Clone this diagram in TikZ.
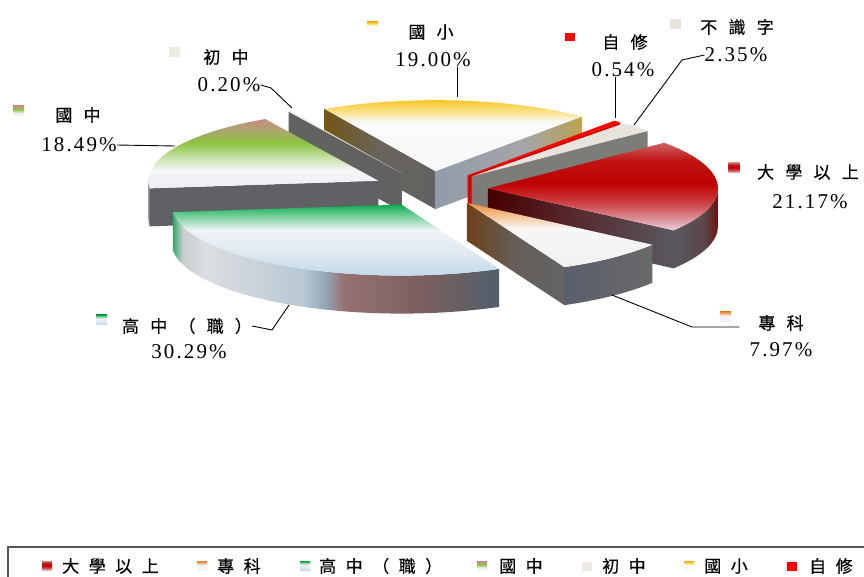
\documentclass[tikz,border=0pt]{standalone}
\usepackage{fontspec}
\newfontfamily\cjkfont[LetterSpace=66,FakeBold=0.4]{Noto Sans CJK TC}
\newfontfamily\keyfont[LetterSpace=56,FakeBold=0.4]{Noto Sans CJK TC}
\newfontfamily\numfont[LetterSpace=10]{Liberation Serif}

% slice colours
\definecolor{gxyel}{RGB}{245,185,0}
\definecolor{gxlight}{RGB}{250,215,95}
\definecolor{czbeige}{RGB}{236,234,226}
\definecolor{czgray}{RGB}{98,98,96}
\definecolor{zxred}{RGB}{255,0,0}
\definecolor{zxside}{RGB}{215,0,0}
\definecolor{bszbeige}{RGB}{230,228,220}
\definecolor{bszgray}{RGB}{124,124,120}
\definecolor{gzgray}{RGB}{95,97,101}
\definecolor{framegray}{RGB}{85,85,85}

% top faces (vertical, bottom -> top)
\pgfdeclareverticalshading{gxtop}{100bp}{color(0bp)=(white!95!gray); color(25bp)=(white!95!gray);
  color(57bp)=(white!97!gray); color(67bp)=(gxlight); color(75bp)=(gxyel); color(100bp)=(gxyel)}
\pgfdeclareverticalshading{gztop}{100bp}{color(0bp)=(rgb,255:red,235;green,238;blue,245);
  color(25bp)=(rgb,255:red,235;green,238;blue,245); color(38bp)=(rgb,255:red,245;green,246;blue,248);
  color(46bp)=(rgb,255:red,205;green,228;blue,180); color(58bp)=(rgb,255:red,140;green,195;blue,65);
  color(67bp)=(rgb,255:red,172;green,165;blue,110); color(75bp)=(rgb,255:red,200;green,140;blue,130);
  color(100bp)=(rgb,255:red,200;green,140;blue,130)}
\pgfdeclareverticalshading{dxtop}{100bp}{color(0bp)=(rgb,255:red,235;green,205;blue,215);
  color(25bp)=(rgb,255:red,235;green,205;blue,215); color(40bp)=(rgb,255:red,205;green,70;blue,75);
  color(52bp)=(rgb,255:red,190;green,0;blue,0); color(65bp)=(rgb,255:red,192;green,20;blue,20);
  color(75bp)=(rgb,255:red,205;green,100;blue,100); color(100bp)=(rgb,255:red,205;green,100;blue,100)}
\pgfdeclareverticalshading{zktop}{100bp}{color(0bp)=(rgb,255:red,240;green,240;blue,240);
  color(25bp)=(rgb,255:red,240;green,240;blue,240); color(55bp)=(rgb,255:red,247;green,247;blue,247);
  color(65bp)=(rgb,255:red,245;green,195;blue,150); color(75bp)=(rgb,255:red,235;green,140;blue,60);
  color(100bp)=(rgb,255:red,235;green,140;blue,60)}
\pgfdeclareverticalshading{gzhtop}{100bp}{color(0bp)=(rgb,255:red,190;green,215;blue,235);
  color(25bp)=(rgb,255:red,190;green,215;blue,235); color(45bp)=(rgb,255:red,225;green,235;blue,242);
  color(58bp)=(rgb,255:red,240;green,243;blue,245); color(68bp)=(rgb,255:red,110;green,205;blue,150);
  color(75bp)=(rgb,255:red,15;green,170;blue,80); color(100bp)=(rgb,255:red,15;green,170;blue,80)}

% side faces (horizontal, left -> right)
\pgfdeclarehorizontalshading{gxleft}{100bp}{color(0bp)=(rgb,255:red,115;green,85;blue,20);
  color(25bp)=(rgb,255:red,115;green,85;blue,20); color(50bp)=(rgb,255:red,105;green,100;blue,92);
  color(75bp)=(rgb,255:red,98;green,98;blue,98); color(100bp)=(rgb,255:red,98;green,98;blue,98)}
\pgfdeclarehorizontalshading{gxright}{100bp}{color(0bp)=(rgb,255:red,145;green,155;blue,170);
  color(25bp)=(rgb,255:red,145;green,155;blue,170); color(55bp)=(rgb,255:red,165;green,166;blue,168);
  color(70bp)=(rgb,255:red,180;green,162;blue,105); color(75bp)=(rgb,255:red,192;green,165;blue,75);
  color(100bp)=(rgb,255:red,192;green,165;blue,75)}
\pgfdeclarehorizontalshading{dxside}{100bp}{color(0bp)=(rgb,255:red,70;green,0;blue,0);
  color(25bp)=(rgb,255:red,70;green,0;blue,0); color(45bp)=(rgb,255:red,85;green,35;blue,40);
  color(75bp)=(rgb,255:red,88;green,88;blue,95); color(100bp)=(rgb,255:red,88;green,88;blue,95)}
\pgfdeclarehorizontalshading{dxband}{100bp}{color(0bp)=(rgb,255:red,88;green,88;blue,95);
  color(25bp)=(rgb,255:red,88;green,88;blue,95); color(60bp)=(rgb,255:red,90;green,70;blue,75);
  color(75bp)=(rgb,255:red,110;green,15;blue,15); color(100bp)=(rgb,255:red,110;green,15;blue,15)}
\pgfdeclarehorizontalshading{zkside}{100bp}{color(0bp)=(rgb,255:red,110;green,65;blue,25);
  color(25bp)=(rgb,255:red,110;green,65;blue,25); color(50bp)=(rgb,255:red,100;green,95;blue,90);
  color(75bp)=(rgb,255:red,100;green,100;blue,100); color(100bp)=(rgb,255:red,100;green,100;blue,100)}
\pgfdeclarehorizontalshading{zkband}{100bp}{color(0bp)=(rgb,255:red,90;green,95;blue,108);
  color(25bp)=(rgb,255:red,90;green,95;blue,108); color(75bp)=(rgb,255:red,105;green,105;blue,105);
  color(100bp)=(rgb,255:red,105;green,105;blue,105)}
\pgfdeclarehorizontalshading{gzhband}{100bp}{color(0bp)=(rgb,255:red,50;green,170;blue,100);
  color(25bp)=(rgb,255:red,50;green,170;blue,100); color(26.5bp)=(rgb,255:red,200;green,205;blue,205);
  color(30bp)=(rgb,255:red,220;green,222;blue,225); color(45bp)=(rgb,255:red,185;green,200;blue,212);
  color(48.5bp)=(rgb,255:red,145;green,165;blue,180); color(51bp)=(rgb,255:red,150;green,115;blue,115);
  color(62.5bp)=(rgb,255:red,125;green,95;blue,95); color(70bp)=(rgb,255:red,100;green,95;blue,100);
  color(75bp)=(rgb,255:red,80;green,95;blue,110); color(100bp)=(rgb,255:red,80;green,95;blue,110)}

% pieces of one slice, drawn from its apex (0,0)
\newcommand\rimface[2]{%
  \path[#2] (0,0) -- (#1:230 and 71) -- ++(0,-38) -- (0,-38) -- cycle;}
\newcommand\bandface[3]{%
  \path[#3] (#1:230 and 71) arc[start angle=#1,end angle=#2,x radius=230,y radius=71]
    -- ++(0,-38) arc[start angle=#2,end angle=#1,x radius=230,y radius=71] -- cycle;}
\newcommand\lidface[3]{%
  \path[#3] (0,0) -- (#2:230 and 71) arc[start angle=#2,end angle=#1,x radius=230,y radius=71] -- cycle;}

\begin{document}
\begin{tikzpicture}[x=1pt,y=1pt,
  lbl/.style={font=\cjkfont\fontsize{17}{19}\selectfont,inner sep=0pt},
  num/.style={font=\numfont\fontsize{21}{23}\selectfont,inner sep=0pt},
  keytxt/.style={font=\keyfont\fontsize{17}{19}\selectfont,inner sep=0pt,anchor=west},
  key/.style={inner sep=0pt,minimum width=11pt,minimum height=10pt},
  leader/.style={draw=black,line width=0.9pt}]
\useasboundingbox[fill=white] (0,0) rectangle (864,576);

\begin{scope}[shift={(430,387)}]
% 國小
\begin{scope}[shift={(84.6:58 and 17.9)}]
  \rimface{118.8}{shade,shading=gxleft}
  \rimface{50.4}{shade,shading=gxright}
  \lidface{50.4}{118.8}{shade,shading=gxtop}
\end{scope}
% 初中
\begin{scope}[shift={(119.15:58 and 17.9)}]
  \rimface{119.5}{fill=czgray}
  \lidface{118.8}{119.5}{fill=czbeige}
\end{scope}
% 自修
\begin{scope}[shift={(49.45:58 and 17.9)}]
  \rimface{48.5}{fill=zxside}
  \lidface{48.5}{50.4}{fill=zxred}
\end{scope}
% 不識字
\begin{scope}[shift={(44.25:58 and 17.9)}]
  \rimface{40}{fill=bszgray}
  \lidface{40}{48.5}{fill=bszbeige}
\end{scope}
% 國中
\begin{scope}[shift={(152.8:58 and 17.9)}]
  \rimface{186.1}{fill=gzgray}
  \bandface{180}{186.1}{fill=gzgray}
  \lidface{119.5}{186.1}{shade,shading=gztop}
\end{scope}
% 大學以上
\begin{scope}[shift={(1.9:58 and 17.9)}]
  \rimface{-36.2}{shade,shading=dxside}
  \bandface{-36.2}{0}{shade,shading=dxband}
  \lidface{-36.2}{40}{shade,shading=dxtop}
\end{scope}
% 專科
\begin{scope}[shift={(-50.55:58 and 17.9)}]
  \rimface{-64.9}{shade,shading=zkside}
  \bandface{-64.9}{-36.2}{shade,shading=zkband}
  \lidface{-64.9}{-36.2}{shade,shading=zktop}
\end{scope}
% 高中（職）
\begin{scope}[shift={(-119.4:58 and 17.9)}]
  \bandface{-173.9}{-64.9}{shade,shading=gzhband}
  \lidface{-173.9}{-64.9}{shade,shading=gzhtop}
\end{scope}
\end{scope}

% data labels
\node[key,shade,shading=gxtop] (kgx) at (372.5,549) {};
\node[lbl] (tgx) at (431,544) {國小};
\node[num] (pgx) at (433,516) {19.00\%};
\coordinate (egx) at (457,479);
\draw[leader] (pgx.south -| egx) -- (egx);

\node[key,fill=czbeige] (kcz) at (174,523.5) {};
\node[lbl] (tcz) at (226,519) {初中};
\node[num] (pcz) at (229,491) {0.20\%};
\coordinate (bcz) at (271,488);
\coordinate (ecz) at (292,468);
\draw[leader] (pcz.east) -- (bcz) -- (ecz);

\node[key,shade,shading=gztop] (kgz) at (18.5,465) {};
\node[lbl] (tgz) at (78,461) {國中};
\node[num] (pgz) at (79,431) {18.49\%};
\coordinate (egz) at (175,430);
\draw[leader] (pgz.east) -- (egz);

\node[key,fill=zxred,minimum width=10pt,minimum height=8pt] (kzx) at (570,539) {};
\node[lbl] (tzx) at (625,534) {自修};
\node[num] (pzx) at (623,506) {0.54\%};
\coordinate (ezx) at (615,458);
\draw[leader] (pzx.south -| ezx) -- (ezx);

\node[key,fill=bszbeige] (kbs) at (675.5,552) {};
\node[lbl] (tbs) at (737,549) {不識字};
\node[num] (pbs) at (736,521) {2.35\%};
\coordinate (bbs) at (682,516);
\coordinate (ebs) at (634,451);
\draw[leader] (pbs.west) -- (bbs) -- (ebs);

\node[key,shade,shading=dxtop] (kdx) at (734,408) {};
\node[lbl] (tdx) at (808,404) {大學以上};
\node[num] (pdx) at (810,374) {21.17\%};

\node[key,shade,shading=zktop] (kzk) at (725.5,259) {};
\node[lbl] (tzk) at (781,253) {專科};
\node[num] (pzk) at (781,226) {7.97\%};
\coordinate (bzk) at (692,249);
\coordinate (ezk) at (612,281);
\draw[leader] (pzk.north west |- bzk) ++(-10,0) -- (bzk) -- (ezk);

\node[key,shade,shading=gzhtop] (kgzh) at (101.5,256) {};
\node[lbl] (tgzh) at (187,250) {高中（職）};
\node[num] (pgzh) at (189,224) {30.29\%};
\coordinate (bgzh) at (272,246);
\coordinate (egzh) at (289,271);
\draw[leader] (tgzh.east) -- (bgzh) -- (egzh);

% legend
\draw[framegray,line width=1.3pt] (880,29) -- (8,29) -- (8,-10);
\node[key,minimum width=10pt,minimum height=9pt,shade,shading=dxtop] (ldx) at (47,10) {};
\node[keytxt] (mdx) at (62,10) {大學以上};
\node[key,minimum width=10pt,minimum height=9pt,shade,shading=zktop] (lzk) at (202,10) {};
\node[keytxt] (mzk) at (217,10) {專科};
\node[key,minimum width=10pt,minimum height=9pt,shade,shading=gzhtop] (lgzh) at (305,10) {};
\node[keytxt] (mgzh) at (319,10) {高中（職）};
\node[key,minimum width=10pt,minimum height=9pt,shade,shading=gztop] (lgz) at (482,10) {};
\node[keytxt] (mgz) at (499,10) {國中};
\node[key,minimum width=10pt,minimum height=9pt,fill=czbeige] (lcz) at (587,10) {};
\node[keytxt] (mcz) at (602,10) {初中};
\node[key,minimum width=10pt,minimum height=9pt,shade,shading=gxtop] (lgx) at (689,10) {};
\node[keytxt] (mgx) at (704,10) {國小};
\node[key,minimum width=10pt,minimum height=9pt,fill=zxred] (lzx) at (792,10) {};
\node[keytxt] (mzx) at (809,10) {自修};
\end{tikzpicture}
\end{document}
